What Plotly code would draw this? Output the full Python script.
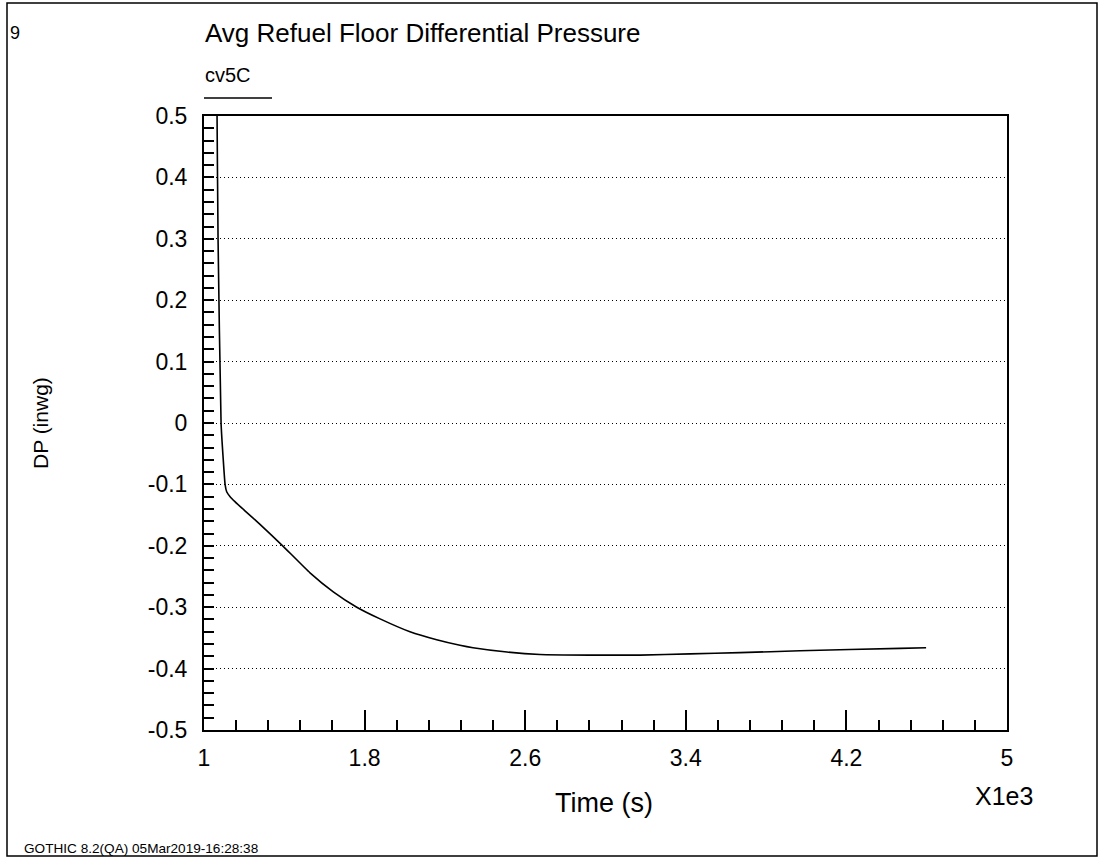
import plotly.graph_objects as go

# Average refuel-floor differential pressure, control volume cv5C
time_ks = [1.062, 1.065, 1.070, 1.085, 1.096, 1.105, 1.113, 1.130, 1.154,
           1.204, 1.279, 1.392, 1.528, 1.644, 1.761, 1.877, 2.026,
           2.159, 2.275, 2.340, 2.509, 2.674, 2.923, 3.172, 3.421, 3.670,
           3.969, 4.467, 4.597]
dp_inwg = [0.60, 0.50, 0.30, 0.00, -0.060, -0.100, -0.112, -0.120, -0.128,
           -0.143, -0.165, -0.200, -0.244, -0.275, -0.300, -0.319,
           -0.340, -0.353, -0.362, -0.366, -0.373, -0.377, -0.378, -0.378,
           -0.376, -0.374, -0.371, -0.367, -0.366]

x_tickvals = [1, 1.8, 2.6, 3.4, 4.2, 5]
x_ticktext = ["1", "1.8", "2.6", "3.4", "4.2", "5"]
y_tickvals = [0.5, 0.4, 0.3, 0.2, 0.1, 0, -0.1, -0.2, -0.3, -0.4, -0.5]
y_ticktext = ["0.5", "0.4", "0.3", "0.2", "0.1", "0", "-0.1", "-0.2", "-0.3", "-0.4", "-0.5"]

FONT = "Liberation Sans, Arial, sans-serif"

# plot area in pixels
L, R, T, B = 204, 1007, 116, 730
W, H = 1098, 857


def px_x(p):
    return (p - L) / (R - L)


def px_y(p):
    return (B - p) / (B - T)


fig = go.Figure()
fig.add_trace(go.Scatter(
    x=time_ks, y=dp_inwg, mode="lines",
    line=dict(color="black", width=1.6, shape="spline", smoothing=0.4),
    showlegend=False,
))

axis_common = dict(
    showline=True, linecolor="black", linewidth=2, mirror=True,
    zeroline=False, tickfont=dict(family=FONT, size=23, color="black"),
    ticks="inside", tickcolor="black", tickwidth=1.5,
)

fig.update_xaxes(
    range=[1, 5], tickvals=x_tickvals, ticktext=x_ticktext,
    ticklen=20, showgrid=False, ticklabelstandoff=6,
    minor=dict(ticks="inside", ticklen=10, tickcolor="black", tickwidth=1.5,
               tick0=1, dtick=0.16, showgrid=False),
    **axis_common,
)
fig.update_yaxes(
    range=[-0.5, 0.5], tickvals=y_tickvals, ticktext=y_ticktext,
    ticklen=10, showgrid=True, gridcolor="black", gridwidth=1.2,
    griddash="1px,3px", ticklabelstandoff=10,
    minor=dict(ticks="inside", ticklen=10, tickcolor="black", tickwidth=1.5,
               tick0=-0.5, dtick=0.02, showgrid=False),
    **axis_common,
)

annotations = [
    dict(text="9", x=px_x(8), y=px_y(33), xanchor="left", yanchor="middle",
         font=dict(size=18)),
    dict(text="Avg Refuel Floor Differential Pressure", x=px_x(203), y=px_y(33),
         xanchor="left", yanchor="middle", font=dict(size=26)),
    dict(text="cv5C", x=px_x(203), y=px_y(75), xanchor="left", yanchor="middle",
         font=dict(size=20)),
    dict(text="DP (inwg)", x=px_x(40), y=px_y(423), xanchor="center",
         yanchor="middle", textangle=-90, font=dict(size=21)),
    dict(text="Time (s)", x=px_x(604), y=px_y(803), xanchor="center",
         yanchor="middle", font=dict(size=27)),
    dict(text="X1e3", x=px_x(1004), y=px_y(796), xanchor="center",
         yanchor="middle", font=dict(size=25)),
    dict(text="GOTHIC 8.2(QA) 05Mar2019-16:28:38", x=px_x(22), y=px_y(848),
         xanchor="left", yanchor="middle", font=dict(size=13.6)),
]
for a in annotations:
    a.update(xref="paper", yref="paper", showarrow=False)
    a["font"].update(family=FONT, color="black")

shapes = [
    # legend sample line under the series name
    dict(type="line", xref="paper", yref="paper",
         x0=px_x(204), x1=px_x(272), y0=px_y(98), y1=px_y(98),
         line=dict(color="black", width=1.5)),
    # outer page frame
    dict(type="rect", xref="paper", yref="paper",
         x0=px_x(7), x1=px_x(1097), y0=px_y(856), y1=px_y(3),
         line=dict(color="black", width=1.5)),
]

fig.update_layout(
    width=W, height=H,
    margin=dict(l=L, r=W - R, t=T, b=H - B),
    paper_bgcolor="white", plot_bgcolor="white",
    font=dict(family=FONT, color="black"),
    annotations=annotations, shapes=shapes,
)

fig.write_html("out.html")
